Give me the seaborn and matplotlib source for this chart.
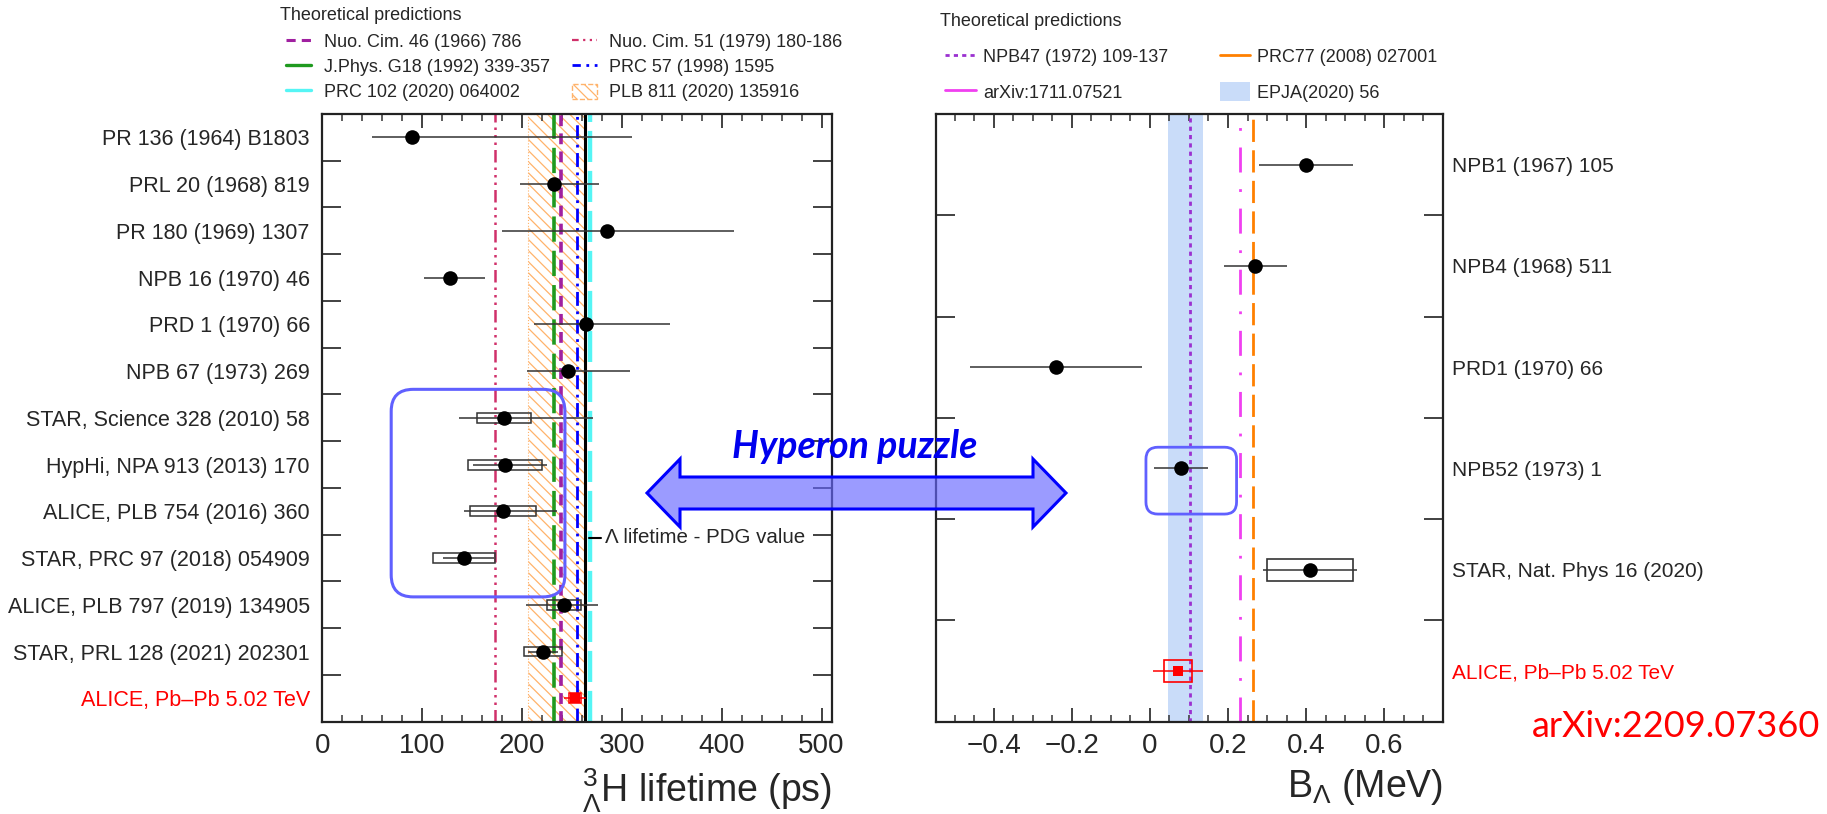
import numpy as np
import pandas as pd
import seaborn as sns
import matplotlib.pyplot as plt
import matplotlib.patches as mpatches
from matplotlib.lines import Line2D
from matplotlib.transforms import IdentityTransform

# ---- data: hypertriton lifetime (ps) ----
tau_labels = ["PR 136 (1964) B1803", "PRL 20 (1968) 819", "PR 180 (1969) 1307",
              "NPB 16 (1970) 46", "PRD 1 (1970) 66", "NPB 67 (1973) 269",
              "STAR, Science 328 (2010) 58", "HypHi, NPA 913 (2013) 170",
              "ALICE, PLB 754 (2016) 360", "STAR, PRC 97 (2018) 054909",
              "ALICE, PLB 797 (2019) 134905", "STAR, PRL 128 (2021) 202301",
              "ALICE, Pb\u2013Pb 5.02 TeV"]
tau = [90, 232, 285, 128, 264, 246, 182, 183, 181, 142, 242, 221, 253]
tau_err_lo = [40, 34, 105, 26, 52, 41, 45, 32, 39, 21, 38, 15, 11]
tau_err_hi = [220, 45, 127, 35, 84, 62, 89, 42, 54, 30, 34, 15, 11]
tau_syst = [np.nan, np.nan, np.nan, np.nan, np.nan, np.nan, 27, 37, 33, 31, 17, 19, 6]

# theory lines (ps)
tau_theory_names = ["Nuo. Cim. 46 (1966) 786", "J.Phys. G18 (1992) 339-357", "PRC 102 (2020) 064002",
                    "Nuo. Cim. 51 (1979) 180-186", "PRC 57 (1998) 1595"]
tau_theory = [239.5, 232, 268, 173, 255]
plb811_band = [206, 263]
tau_pdg = 263.2

# ---- data: Lambda separation energy (MeV) ----
b_labels = ["NPB1 (1967) 105", "NPB4 (1968) 511", "PRD1 (1970) 66", "NPB52 (1973) 1",
            "STAR, Nat. Phys 16 (2020)", "ALICE, Pb\u2013Pb 5.02 TeV"]
b_lambda = [0.40, 0.27, -0.24, 0.08, 0.41, 0.072]
b_err = [0.12, 0.08, 0.22, 0.07, 0.12, 0.063]
b_syst = [np.nan, np.nan, np.nan, np.nan, 0.11, 0.036]

b_theory_names = ["NPB47 (1972) 109-137", "arXiv:1711.07521", "PRC77 (2008) 027001"]
b_theory = [0.102, 0.232, 0.264]
epja_band = [0.046, 0.135]

tau_df = pd.DataFrame({"label": tau_labels, "tau": tau, "lo": tau_err_lo, "hi": tau_err_hi,
                       "syst": tau_syst, "row": np.arange(len(tau_labels))})
b_df = pd.DataFrame({"label": b_labels, "b": b_lambda, "err": b_err, "syst": b_syst,
                     "row": np.arange(len(b_labels))})

sns.set_theme(style="ticks")
plt.rcParams['font.family'] = ['Liberation Sans', 'DejaVu Sans']
plt.rcParams['mathtext.fontset'] = 'custom'
plt.rcParams['mathtext.rm'] = 'Liberation Sans'
plt.rcParams['mathtext.it'] = 'Liberation Sans:italic'
plt.rcParams['hatch.linewidth'] = 0.9

W, H = 1827, 814
fig = plt.figure(figsize=(W / 100, H / 100), dpi=100)
ax1 = fig.add_axes([322.3 / W, 1 - 721.7 / H, (831.5 - 322.3) / W, (721.7 - 114) / H])
ax2 = fig.add_axes([936 / W, 1 - 721.7 / H, (1443 - 936) / W, (721.7 - 114) / H])

red = "#ff0000"
c_nuo46, c_jphys, c_prc102, c_nuo51, c_prc57 = "#a020a0", "#1f9a1f", "#55f5f5", "#d0306a", "#0000ff"
st_nuo46, st_jphys, st_prc102, st_nuo51, st_prc57 = (0, (3, 2)), (0, (7, 2.5)), (0, (7, 2)), \
    (0, (5, 2, 1, 2, 1, 2, 1, 2)), (0, (5, 2, 1, 2))
c_hatch = "#ffb36b"

# ---------------- left panel ----------------
ax1.axvspan(plb811_band[0], plb811_band[1], facecolor="none", edgecolor=c_hatch, hatch="\\\\\\",
            linewidth=0.8, linestyle=":", zorder=0)
ax1.axvspan(tau_pdg - 1.5, tau_pdg + 1.5, color="#888888", alpha=0.4, lw=0, zorder=1)
ax1.axvline(tau_pdg, color="black", lw=2.2, zorder=2)
styles = [(c_nuo46, st_nuo46, 2.6), (c_jphys, st_jphys, 2.6), (c_prc102, st_prc102, 3.2),
          (c_nuo51, st_nuo51, 1.8), (c_prc57, st_prc57, 2.0)]
for xv, (c, ls, lw) in zip(tau_theory, styles):
    ax1.axvline(xv, color=c, linestyle=ls, lw=lw, zorder=2)

sys_df = tau_df.dropna(subset=["syst"])
ax1.barh(sys_df["row"], 2 * sys_df["syst"], left=sys_df["tau"] - sys_df["syst"], height=0.21,
         fill=False, edgecolor=["#333333"] * (len(sys_df) - 1) + [red], lw=1.1, zorder=3)
ax1.errorbar(tau_df["tau"], tau_df["row"], xerr=[tau_df["lo"], tau_df["hi"]], fmt="none",
             ecolor=["#333333"] * (len(tau_df) - 1) + [red], elinewidth=1.1, capsize=0, zorder=3)
black_pts = tau_df.iloc[:-1]
sns.scatterplot(data=black_pts, x="tau", y="row", ax=ax1, color="black", s=110,
                edgecolor="black", linewidth=0, zorder=4, legend=False)
sns.scatterplot(data=tau_df.iloc[-1:], x="tau", y="row", ax=ax1, color=red, marker="s", s=45,
                edgecolor=red, linewidth=0, zorder=4, legend=False)

ax1.plot([267, 279], [8.56, 8.56], color="black", lw=1.5)
ax1.text(283, 8.56, "\u039b lifetime - PDG value", va="center", ha="left", fontsize=14.8)

ax1.set_xlim(0, 510)
ax1.set_ylim(len(tau_labels) - 0.5, -0.5)
ax1.set_xticks(np.arange(0, 501, 100))
ax1.set_xticks(np.arange(0, 511, 20), minor=True)
ax1.set_yticks(np.arange(0.5, len(tau_labels) - 1, 1))
ax1.set_yticks(np.arange(len(tau_labels)), minor=True)
ax1.set_yticklabels([], minor=False)
ax1.set_yticklabels(tau_labels, minor=True)
ax1.tick_params(axis="y", which="major", direction="in", length=14, width=1.3, left=True, right=True,
                labelleft=False, color="#333333")
ax1.tick_params(axis="y", which="minor", length=0, labelsize=15.5, pad=9)
ax1.tick_params(axis="x", which="major", direction="in", length=10, width=1.3, top=True,
                labelsize=20, pad=8, color="#333333")
ax1.tick_params(axis="x", which="minor", direction="in", length=5, width=1.1, top=True, color="#333333")
ax1.get_yticklabels(minor=True)[-1].set_color(red)
ax1.set_xlabel("$^{3}_{\\Lambda}$H lifetime (ps)", fontsize=27, loc="right", labelpad=6)
ax1.set_ylabel("")

# ---------------- right panel ----------------
ax2.axvspan(epja_band[0], epja_band[1], color="#c9dcf9", lw=0, zorder=0)
c_npb47, c_arx, c_prc77 = "#9b30d0", "#f040f0", "#ff8000"
st_npb47, st_arx, st_prc77 = (0, (1.5, 1.5)), (0, (9, 6, 1, 6)), (0, (8, 3))
for xv, c, ls in zip(b_theory, [c_npb47, c_arx, c_prc77], [st_npb47, st_arx, st_prc77]):
    ax2.axvline(xv, color=c, linestyle=ls, lw=2.0, zorder=2)

bsys = b_df.dropna(subset=["syst"])
ax2.barh(bsys["row"], 2 * bsys["syst"], left=bsys["b"] - bsys["syst"], height=0.22,
         fill=False, edgecolor=["#333333", red], lw=1.2, zorder=3)
ax2.errorbar(b_df["b"], b_df["row"], xerr=b_df["err"], fmt="none",
             ecolor=["#333333"] * (len(b_df) - 1) + [red], elinewidth=1.1, capsize=0, zorder=3)
sns.scatterplot(data=b_df.iloc[:-1], x="b", y="row", ax=ax2, color="black", s=110,
                linewidth=0, zorder=4, legend=False)
sns.scatterplot(data=b_df.iloc[-1:], x="b", y="row", ax=ax2, color=red, marker="s", s=45,
                linewidth=0, zorder=4, legend=False)

ax2.set_xlim(-0.5475, 0.7505)
ax2.set_ylim(len(b_labels) - 0.5, -0.5)
ax2.set_xticks([-0.4, -0.2, 0, 0.2, 0.4, 0.6], ["\u22120.4", "\u22120.2", "0", "0.2", "0.4", "0.6"])
ax2.set_xticks(np.arange(-0.5, 0.751, 0.05), minor=True)
ax2.set_yticks(np.arange(0.5, len(b_labels) - 1, 1))
ax2.set_yticks(np.arange(len(b_labels)), minor=True)
ax2.set_yticklabels([], minor=False)
ax2.set_yticklabels(b_labels, minor=True)
ax2.tick_params(axis="y", which="major", direction="in", length=14, width=1.3, left=True, right=True,
                labelleft=False, color="#333333")
ax2.tick_params(axis="y", which="minor", length=0, labelsize=15, pad=6.5, labelleft=False, labelright=True)
ax2.tick_params(axis="x", which="major", direction="in", length=10, width=1.3, top=True,
                labelsize=20, pad=8, color="#333333")
ax2.tick_params(axis="x", which="minor", direction="in", length=5, width=1.1, top=True, color="#333333")
ax2.get_yticklabels(minor=True)[-1].set_color(red)
ax2.set_xlabel("B$_{\\Lambda}$ (MeV)", fontsize=27, loc="right", labelpad=6)
ax2.set_ylabel("")

for ax in (ax1, ax2):
    for sp in ax.spines.values():
        sp.set_linewidth(1.6)
        sp.set_color("#222222")

# ---------------- legends ----------------
h_left = [Line2D([], [], color=c_nuo46, ls=(0, (3, 2)), lw=2.2),
          Line2D([], [], color=c_jphys, lw=2.4),
          Line2D([], [], color=c_prc102, lw=2.4),
          Line2D([], [], color=c_nuo51, ls=(0, (3, 2, 1, 2, 1, 2, 1, 2)), lw=1.6),
          Line2D([], [], color=c_prc57, ls=(0, (3, 2, 1, 2)), lw=2.0),
          mpatches.Patch(facecolor="none", edgecolor=c_hatch, hatch="\\\\\\", ls="--", lw=1)]
l_left = [tau_theory_names[0], tau_theory_names[1], tau_theory_names[2],
          tau_theory_names[3], tau_theory_names[4], "PLB 811 (2020) 135916"]
fig.legend(h_left, l_left, ncol=2, loc="upper left", bbox_to_anchor=(286 / W, 1 - 33 / H),
           frameon=False, fontsize=13, handlelength=1.4, handletextpad=0.7, columnspacing=1.2,
           labelspacing=0.42, borderpad=0, borderaxespad=0, handleheight=0.9)
fig.text(280 / W, 1 - 16 / H, "Theoretical predictions", ha="left", va="center", fontsize=13)

h_right = [Line2D([], [], color=c_npb47, ls=(0, (1.5, 1.5)), lw=2.0),
           Line2D([], [], color=c_arx, lw=2.0),
           Line2D([], [], color=c_prc77, lw=2.0),
           mpatches.Patch(facecolor="#c9dcf9", edgecolor="none")]
l_right = [b_theory_names[0], b_theory_names[1], b_theory_names[2], "EPJA(2020) 56"]
fig.legend(h_right, l_right, ncol=2, loc="upper left", bbox_to_anchor=(945 / W, 1 - 47 / H),
           frameon=False, fontsize=13, handlelength=1.7, handletextpad=0.4, columnspacing=2.85,
           labelspacing=0.88, borderpad=0, borderaxespad=0, handleheight=1.2)
fig.text(940 / W, 1 - 21 / H, "Theoretical predictions", ha="left", va="center", fontsize=13)

# ---------------- annotations ----------------
def rounded_box(ax, x0, x1, y0, y1, radius, color, lw):
    (px0, py0), (px1, py1) = ax.transData.transform([(x0, y0), (x1, y1)])
    box = mpatches.FancyBboxPatch((min(px0, px1), min(py0, py1)), abs(px1 - px0), abs(py1 - py0),
                                  boxstyle=f"round,pad=0,rounding_size={radius}",
                                  facecolor="none", edgecolor=color, lw=lw,
                                  transform=IdentityTransform(), zorder=10)
    fig.add_artist(box)

rounded_box(ax1, 69, 243, 5.39, 9.83, 22, "#6060ff", 2.2)
rounded_box(ax2, -0.010, 0.222, 2.79, 3.45, 12, "#6060ff", 2.0)

# double arrow (figure pixel geometry)
tip_l, tip_r, yc, head_len, head_h, body_h = 647, 1066, 493, 33, 34, 16
verts_px = [(tip_l, yc), (tip_l + head_len, yc - head_h), (tip_l + head_len, yc - body_h),
            (tip_r - head_len, yc - body_h), (tip_r - head_len, yc - head_h), (tip_r, yc),
            (tip_r - head_len, yc + head_h), (tip_r - head_len, yc + body_h),
            (tip_l + head_len, yc + body_h), (tip_l + head_len, yc + head_h)]
verts = [(x / W, 1 - y / H) for x, y in verts_px]
arrow = mpatches.Polygon(verts, closed=True, facecolor=(0.4, 0.4, 1.0, 0.65), edgecolor="#0000ff",
                         lw=2.2, transform=fig.transFigure, zorder=11)
fig.add_artist(arrow)
fig.text(855 / W, 1 - 447 / H, "Hyperon puzzle", ha="center", va="center", fontsize=27,
         fontweight="bold", fontstyle="italic", family=["Lato", "DejaVu Sans"], color="#0000ee")
fig.text(1820 / W, 1 - 737 / H, "arXiv:2209.07360", ha="right", va="baseline", fontsize=26,
         family=["Lato", "DejaVu Sans"], color=red)

fig.savefig("out.png", dpi=100)
